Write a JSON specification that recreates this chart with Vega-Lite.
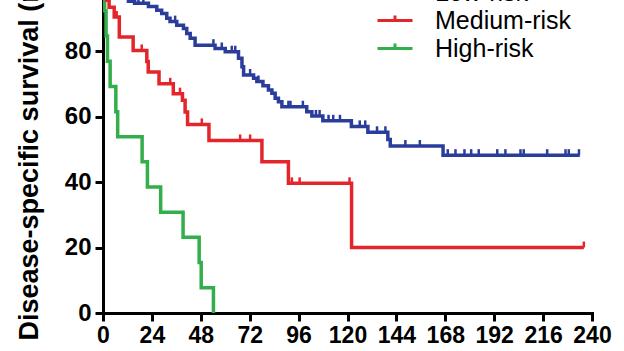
{
  "$schema": "https://vega.github.io/schema/vega-lite/v6.json",
  "autosize": {"type": "none"},
  "padding": {"left": 103, "top": 0, "right": 32, "bottom": 38},
  "width": 489,
  "height": 313,
  "background": "white",
  "config": {
    "view": {"stroke": null},
    "font": "Liberation Sans",
    "axis": {
      "domainColor": "black", "domainWidth": 3, "tickColor": "black", "tickWidth": 3, "tickSize": 8,
      "labelFont": "Liberation Sans", "labelFontWeight": "bold", "labelColor": "black", "labelFontSize": 23,
      "labelOverlap": false, "labelBound": false, "labelFlush": false,
      "grid": false, "domainCap": "square"
    }
  },
  "datasets": {
    "curves": [
      {"group": "High-risk", "month": 0, "surv": 100},
      {"group": "High-risk", "month": 0.8, "surv": 92.3},
      {"group": "High-risk", "month": 1.5, "surv": 84.6},
      {"group": "High-risk", "month": 2.2, "surv": 76.9},
      {"group": "High-risk", "month": 3.5, "surv": 69.2},
      {"group": "High-risk", "month": 6.3, "surv": 61.5},
      {"group": "High-risk", "month": 7.2, "surv": 53.8},
      {"group": "High-risk", "month": 19.2, "surv": 46.2},
      {"group": "High-risk", "month": 21.8, "surv": 38.5},
      {"group": "High-risk", "month": 28.3, "surv": 30.8},
      {"group": "High-risk", "month": 39.3, "surv": 23.1},
      {"group": "High-risk", "month": 47.2, "surv": 15.4},
      {"group": "High-risk", "month": 48.2, "surv": 7.7},
      {"group": "High-risk", "month": 54.2, "surv": 0},
      {"group": "Medium-risk", "month": 0, "surv": 100},
      {"group": "Medium-risk", "month": 1.8, "surv": 95.5},
      {"group": "Medium-risk", "month": 3, "surv": 93.4},
      {"group": "Medium-risk", "month": 5.5, "surv": 90.4},
      {"group": "Medium-risk", "month": 8, "surv": 84.3},
      {"group": "Medium-risk", "month": 14.8, "surv": 80.2},
      {"group": "Medium-risk", "month": 21.5, "surv": 76.8},
      {"group": "Medium-risk", "month": 22.2, "surv": 73.6},
      {"group": "Medium-risk", "month": 27.5, "surv": 70},
      {"group": "Medium-risk", "month": 34.5, "surv": 67},
      {"group": "Medium-risk", "month": 39, "surv": 65},
      {"group": "Medium-risk", "month": 40.3, "surv": 61.4},
      {"group": "Medium-risk", "month": 41.5, "surv": 57.6},
      {"group": "Medium-risk", "month": 52, "surv": 52.7},
      {"group": "Medium-risk", "month": 78, "surv": 46.2},
      {"group": "Medium-risk", "month": 91, "surv": 39.6},
      {"group": "Medium-risk", "month": 122, "surv": 20},
      {"group": "Medium-risk", "month": 236, "surv": 20},
      {"group": "Low-risk", "month": 0, "surv": 100},
      {"group": "Low-risk", "month": 3, "surv": 98.8},
      {"group": "Low-risk", "month": 6, "surv": 97.6},
      {"group": "Low-risk", "month": 9, "surv": 96.4},
      {"group": "Low-risk", "month": 12.5, "surv": 95.2},
      {"group": "Low-risk", "month": 15.5, "surv": 94.6},
      {"group": "Low-risk", "month": 22.3, "surv": 93.6},
      {"group": "Low-risk", "month": 26.4, "surv": 92.5},
      {"group": "Low-risk", "month": 28.8, "surv": 91.5},
      {"group": "Low-risk", "month": 31.3, "surv": 90},
      {"group": "Low-risk", "month": 32.9, "surv": 89},
      {"group": "Low-risk", "month": 36.2, "surv": 87.9},
      {"group": "Low-risk", "month": 39.5, "surv": 86.9},
      {"group": "Low-risk", "month": 41.1, "surv": 85.4},
      {"group": "Low-risk", "month": 42.8, "surv": 83.9},
      {"group": "Low-risk", "month": 45.2, "surv": 81.8},
      {"group": "Low-risk", "month": 55, "surv": 80.8},
      {"group": "Low-risk", "month": 60, "surv": 79.8},
      {"group": "Low-risk", "month": 66.5, "surv": 77.8},
      {"group": "Low-risk", "month": 68.2, "surv": 75.2},
      {"group": "Low-risk", "month": 69, "surv": 72.7},
      {"group": "Low-risk", "month": 73.9, "surv": 71.7},
      {"group": "Low-risk", "month": 75.5, "surv": 70.7},
      {"group": "Low-risk", "month": 78.5, "surv": 69.4},
      {"group": "Low-risk", "month": 81.2, "surv": 68.1},
      {"group": "Low-risk", "month": 82.9, "surv": 67.1},
      {"group": "Low-risk", "month": 84.5, "surv": 65.6},
      {"group": "Low-risk", "month": 86.1, "surv": 64.5},
      {"group": "Low-risk", "month": 87.8, "surv": 63},
      {"group": "Low-risk", "month": 100, "surv": 61.5},
      {"group": "Low-risk", "month": 102.5, "surv": 60.2},
      {"group": "Low-risk", "month": 107.9, "surv": 58.7},
      {"group": "Low-risk", "month": 121.9, "surv": 57},
      {"group": "Low-risk", "month": 130, "surv": 55.2},
      {"group": "Low-risk", "month": 139.8, "surv": 53},
      {"group": "Low-risk", "month": 141, "surv": 51},
      {"group": "Low-risk", "month": 166.9, "surv": 48.2},
      {"group": "Low-risk", "month": 234, "surv": 48.2}
    ],
    "censors": [
      {"group": "Medium-risk", "month": 6.7, "surv": 90.4},
      {"group": "Medium-risk", "month": 19, "surv": 80.2},
      {"group": "Medium-risk", "month": 33, "surv": 70},
      {"group": "Medium-risk", "month": 37.8, "surv": 67},
      {"group": "Medium-risk", "month": 48.5, "surv": 57.6},
      {"group": "Medium-risk", "month": 67.3, "surv": 52.7},
      {"group": "Medium-risk", "month": 72.2, "surv": 52.7},
      {"group": "Medium-risk", "month": 92.7, "surv": 39.6},
      {"group": "Medium-risk", "month": 96.5, "surv": 39.6},
      {"group": "Medium-risk", "month": 121, "surv": 39.6},
      {"group": "Medium-risk", "month": 236, "surv": 20},
      {"group": "Low-risk", "month": 17.4, "surv": 94.6},
      {"group": "Low-risk", "month": 19.8, "surv": 94.6},
      {"group": "Low-risk", "month": 35.4, "surv": 89},
      {"group": "Low-risk", "month": 54.2, "surv": 81.8},
      {"group": "Low-risk", "month": 58.3, "surv": 80.8},
      {"group": "Low-risk", "month": 63.2, "surv": 79.8},
      {"group": "Low-risk", "month": 64.9, "surv": 79.8},
      {"group": "Low-risk", "month": 72.2, "surv": 72.7},
      {"group": "Low-risk", "month": 76.3, "surv": 70.7},
      {"group": "Low-risk", "month": 91, "surv": 63},
      {"group": "Low-risk", "month": 92, "surv": 63},
      {"group": "Low-risk", "month": 98.1, "surv": 63},
      {"group": "Low-risk", "month": 104.5, "surv": 60.2},
      {"group": "Low-risk", "month": 106.3, "surv": 60.2},
      {"group": "Low-risk", "month": 110.7, "surv": 58.7},
      {"group": "Low-risk", "month": 113, "surv": 58.7},
      {"group": "Low-risk", "month": 116.3, "surv": 58.7},
      {"group": "Low-risk", "month": 126, "surv": 57},
      {"group": "Low-risk", "month": 128.7, "surv": 57},
      {"group": "Low-risk", "month": 134.5, "surv": 55.2},
      {"group": "Low-risk", "month": 138.6, "surv": 55.2},
      {"group": "Low-risk", "month": 148.4, "surv": 51},
      {"group": "Low-risk", "month": 155.5, "surv": 51},
      {"group": "Low-risk", "month": 169.2, "surv": 48.2},
      {"group": "Low-risk", "month": 173, "surv": 48.2},
      {"group": "Low-risk", "month": 177.4, "surv": 48.2},
      {"group": "Low-risk", "month": 180.7, "surv": 48.2},
      {"group": "Low-risk", "month": 184.4, "surv": 48.2},
      {"group": "Low-risk", "month": 193.5, "surv": 48.2},
      {"group": "Low-risk", "month": 197.5, "surv": 48.2},
      {"group": "Low-risk", "month": 204.9, "surv": 48.2},
      {"group": "Low-risk", "month": 206.5, "surv": 48.2},
      {"group": "Low-risk", "month": 218, "surv": 48.2},
      {"group": "Low-risk", "month": 227, "surv": 48.2},
      {"group": "Low-risk", "month": 228.6, "surv": 48.2},
      {"group": "Low-risk", "month": 233.6, "surv": 48.2}
    ]
  },
  "layer": [
    {
      "data": {"name": "curves"},
      "mark": {"type": "line", "interpolate": "step-after", "strokeWidth": 3.5, "clip": true},
      "encoding": {
        "x": {
          "field": "month", "type": "quantitative",
          "scale": {"domain": [0, 240], "nice": false, "zero": false},
          "axis": {"values": [0, 24, 48, 72, 96, 120, 144, 168, 192, 216, 240], "title": null, "labelPadding": 3, "labelFontSize": 23}
        },
        "y": {
          "field": "surv", "type": "quantitative",
          "scale": {"domain": [0, 95.6], "nice": false, "zero": false},
          "axis": {
            "values": [0, 20, 40, 60, 80], "labelPadding": 4, "labelFontSize": 24,
            "title": "Disease-specific survival (rate)",
            "titleFont": "Liberation Sans", "titleFontWeight": "bold", "titleFontSize": 27, "titleColor": "black",
            "titleAngle": 270, "titleAlign": "left", "titleBaseline": "alphabetic", "titleX": -66, "titleY": 340
          }
        },
        "color": {
          "field": "group", "type": "nominal",
          "scale": {"domain": ["Low-risk", "Medium-risk", "High-risk"], "range": ["#2B3D9A", "#E3262B", "#32AE4B"]},
          "legend": {
            "title": null, "orient": "none", "legendX": 279.5, "legendY": -20,
            "symbolType": "M-1.75,0H1.75M0,0V-0.5", "symbolSize": 400, "symbolStrokeWidth": 3,
            "labelFont": "Liberation Sans", "labelFontSize": 25, "labelColor": "black", "labelOffset": 27.5,
            "rowPadding": 2, "padding": 0
          }
        }
      }
    },
    {
      "data": {"name": "censors"},
      "mark": {"type": "point", "shape": "M0,0V-1", "size": 144, "filled": false, "strokeWidth": 2.5, "opacity": 1, "clip": true},
      "encoding": {
        "x": {"field": "month", "type": "quantitative"},
        "y": {"field": "surv", "type": "quantitative"},
        "stroke": {
          "field": "group", "type": "nominal",
          "scale": {"domain": ["Low-risk", "Medium-risk", "High-risk"], "range": ["#2B3D9A", "#E3262B", "#32AE4B"]},
          "legend": null
        }
      }
    }
  ]
}
